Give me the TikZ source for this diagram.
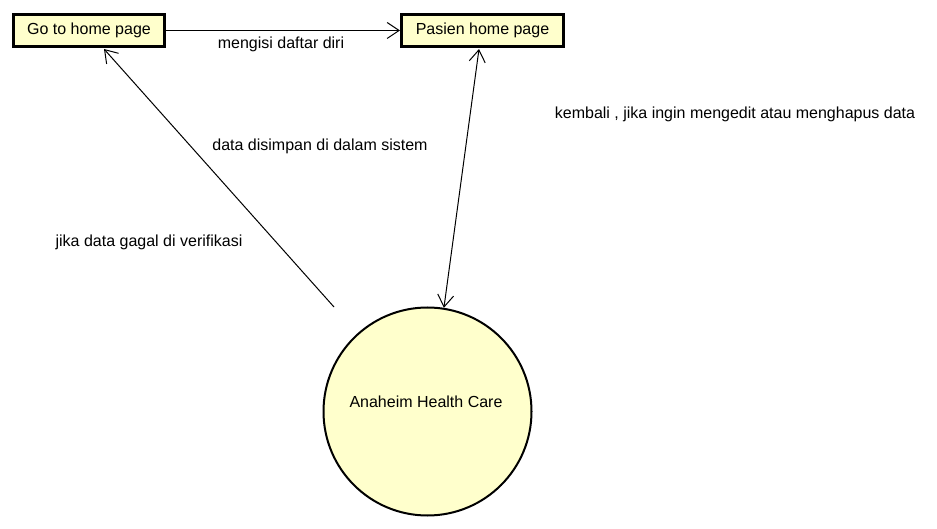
\documentclass[tikz,border=0pt]{standalone}
\usepackage{fontspec}
\setmainfont{Liberation Sans}
\usetikzlibrary{arrows.meta}
\definecolor{boxfill}{HTML}{FFFFCC}
\begin{document}
\begin{tikzpicture}[x=1pt,y=-1pt,
  font=\fontsize{16}{19}\selectfont,
  pagebox/.style={draw=black,line width=3pt,fill=boxfill,minimum height=32pt,inner sep=0pt},
  proc/.style={circle,draw=black,line width=2pt,fill=boxfill,minimum size=208pt,inner sep=0pt},
  conn/.style={draw=black,line width=1pt},
  tip/.style={-{Straight Barb[length=12pt,width=16pt,line width=1pt]}},
  lbl/.style={inner sep=0pt,anchor=center}]
\useasboundingbox (0,0) rectangle (937,529);
\node[pagebox,minimum width=151pt] (g) at (89,30.5) {Go to home page};
\node[pagebox,minimum width=162pt] (p) at (482.5,30.5) {Pasien home page};
\node[proc] (a) at (427.5,411.5) {};
\node[lbl] (alab) at (426,402) {Anaheim Health Care};
\coordinate (s1) at (334,307);
\draw[conn,tip] (g.east) -- (p.west);
\draw[conn,tip] (s1) -- ([xshift=15pt,yshift=-1pt]g.south);
\draw[conn,{Straight Barb[length=12pt,width=16pt,line width=1pt]}-{Straight Barb[length=12pt,width=16pt,line width=1pt]}] ([xshift=-3.5pt,yshift=-1pt]p.south) -- (a.81.5);
\node[lbl] (l1) at (281,44) {mengisi daftar diri};
\node[lbl] (l2) at (320,146) {data disimpan di dalam sistem};
\node[lbl] (l3) at (149,242) {jika data gagal di verifikasi};
\node[lbl] (l4) at (735,114) {kembali , jika ingin mengedit atau menghapus data};
\end{tikzpicture}
\end{document}
